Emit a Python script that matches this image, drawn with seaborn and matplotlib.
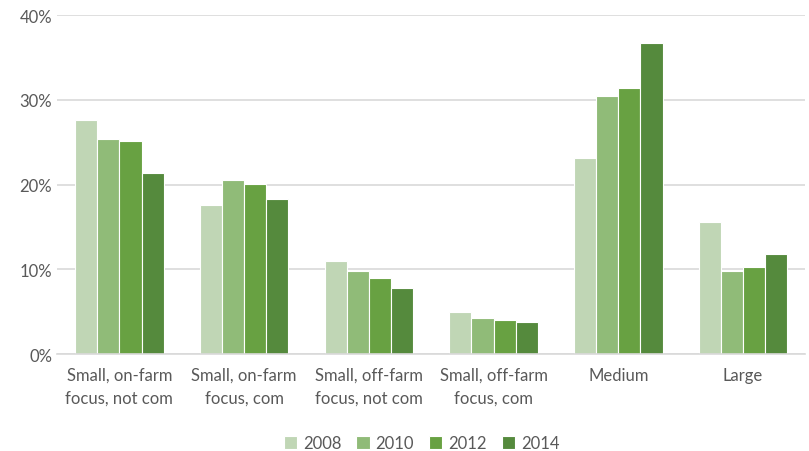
import pandas as pd
import numpy as np
from matplotlib import pyplot as plt
import seaborn as sns
from matplotlib.ticker import PercentFormatter

# data (share, %)
categories = ["Small, on-farm\nfocus, not com", "Small, on-farm\nfocus, com",
              "Small, off-farm\nfocus, not com", "Small, off-farm\nfocus, com",
              "Medium", "Large"]
years = ["2008", "2010", "2012", "2014"]
v2008 = [27.6, 17.6, 11.0, 5.0, 23.1, 15.6]
v2010 = [25.4, 20.5, 9.8, 4.2, 30.4, 9.8]
v2012 = [25.1, 20.1, 9.0, 4.0, 31.4, 10.3]
v2014 = [21.4, 18.3, 7.8, 3.8, 36.7, 11.8]

colors = ["#c0d6b5", "#90bb78", "#68a142", "#558a3d"]

rows = []
for yr, vals in zip(years, [v2008, v2010, v2012, v2014]):
    for c, v in zip(categories, vals):
        rows.append({"cat": c, "year": yr, "val": v})
df = pd.DataFrame(rows)

sns.set_style("white")
plt.rcParams['font.family'] = ['Lato', 'DejaVu Sans']

fig = plt.figure(figsize=(8.09, 4.52), dpi=100)
ax = fig.add_axes([0.0705, 0.2146, 0.925, 0.75])

sns.barplot(data=df, x="cat", y="val", hue="year", palette=colors, saturation=1,
            width=0.71, edgecolor="white", linewidth=0.8, ax=ax, legend=True)

ax.set_ylim(0, 40)
ax.set_yticks([0, 10, 20, 30, 40])
ax.yaxis.set_major_formatter(PercentFormatter(decimals=0))
ax.yaxis.grid(True, color="#d9d9d9", linewidth=1.2)
ax.set_axisbelow(True)
for s in ["top", "right", "left"]:
    ax.spines[s].set_visible(False)
ax.spines["bottom"].set_color("#d9d9d9")
ax.spines["bottom"].set_linewidth(1.2)
ax.tick_params(axis="both", length=0, colors="#595959", labelsize=12)
ax.tick_params(axis="x", pad=9)
for lab in ax.get_xticklabels():
    lab.set_linespacing(1.55)
ax.set_xlabel("")
ax.set_ylabel("")
ax.set_xlim(-0.5, 5.5)

ax.legend(loc="center", bbox_to_anchor=(0.487, -0.263), ncol=4, frameon=False,
          fontsize=12, handlelength=0.8, handleheight=0.8, handletextpad=0.35,
          columnspacing=0.9, labelcolor="#595959")

plt.savefig("out.png", dpi=100)
